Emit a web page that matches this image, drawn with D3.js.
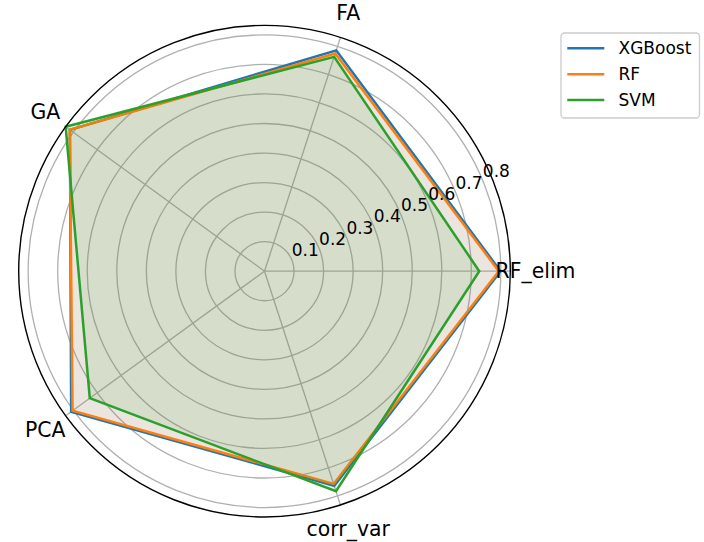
<!DOCTYPE html>
<html>
<head>
<meta charset="utf-8">
<script src="https://cdn.jsdelivr.net/npm/d3@7"></script>
<style>
  body { margin: 0; background: #fff; }
  svg { display: block; font-family: 'DejaVu Sans', sans-serif; }
</style>
</head>
<body>
<div class="radar"></div>
<script>
'use strict';
var categories = ['RF_elim', 'FA', 'GA', 'PCA', 'corr_var'];
var xgboost = [0.799, 0.786, 0.814, 0.809, 0.764];
var rf = [0.793, 0.775, 0.815, 0.803, 0.757];
var svmVals = [0.727, 0.763, 0.832, 0.731, 0.783];
var radialTicks = [0.1, 0.2, 0.3, 0.4, 0.5, 0.6, 0.7, 0.8];
var seriesNames = ['XGBoost', 'RF', 'SVM'];
var seriesColors = ['#1f77b4', '#ff7f0e', '#2ca02c'];

var width = 704, height = 542;
var cx = 264.5, cy = 271.2, outerR = 245.8;

var svg = d3.select('.radar').append('svg')
  .attr('width', width)
  .attr('height', height);

var g = svg.append('g')
  .attr('transform', 'translate(' + cx + ',' + cy + ')');

var r = d3.scaleLinear()
  .domain([0, 0.832])
  .range([0, outerR]);

// theta in matplotlib: counter-clockwise from east
var theta = d3.scaleLinear()
  .domain([0, categories.length])
  .range([0, 2 * Math.PI]);

function px(i, v) { return r(v) * Math.cos(theta(i)); }
function py(i, v) { return -r(v) * Math.sin(theta(i)); }

// circular grid
g.selectAll('.ring')
  .data(radialTicks)
  .enter().append('circle')
  .attr('r', function(d) { return r(d); })
  .attr('fill', 'none')
  .attr('stroke', '#b0b0b0')
  .attr('stroke-width', 1.3);

// spokes
g.selectAll('.spoke')
  .data(categories)
  .enter().append('line')
  .attr('x1', 0).attr('y1', 0)
  .attr('x2', function(d, i) { return outerR * Math.cos(theta(i)); })
  .attr('y2', function(d, i) { return -outerR * Math.sin(theta(i)); })
  .attr('stroke', '#b0b0b0')
  .attr('stroke-width', 1.3);

// series
var line = d3.lineRadial()
  .angle(function(d, i) { return Math.PI / 2 - theta(i); })
  .radius(function(d) { return r(d); })
  .curve(d3.curveLinearClosed);

[xgboost, rf, svmVals].forEach(function(vals, k) {
  g.append('path')
    .attr('d', line(vals))
    .attr('fill', 'none')
    .attr('stroke', seriesColors[k])
    .attr('stroke-width', 2.5)
    .attr('stroke-linejoin', 'miter');
  g.append('path')
    .attr('d', line(vals))
    .attr('fill', seriesColors[k])
    .attr('fill-opacity', 0.1)
    .attr('stroke', 'none');
});

// outer spine
g.append('circle')
  .attr('r', outerR)
  .attr('fill', 'none')
  .attr('stroke', '#000')
  .attr('stroke-width', 1.4);

// radial tick labels at 22.5 deg
var labAng = 22.5 * Math.PI / 180;
g.selectAll('.rlabel')
  .data(radialTicks)
  .enter().append('text')
  .attr('x', function(d) { return r(d) * Math.cos(labAng); })
  .attr('y', function(d) { return -r(d) * Math.sin(labAng) - 3.5; })
  .attr('font-size', '17px')
  .attr('fill', '#000')
  .text(function(d) { return d.toFixed(1); });

// category labels
var labR = 271;
g.selectAll('.tlabel')
  .data(categories)
  .enter().append('text')
  .attr('x', function(d, i) { return labR * Math.cos(theta(i)); })
  .attr('y', function(d, i) { return -labR * Math.sin(theta(i)); })
  .attr('text-anchor', 'middle')
  .attr('dominant-baseline', 'central')
  .attr('font-size', '20.4px')
  .attr('fill', '#000')
  .text(function(d) { return d; });

// legend
var legend = svg.append('g')
  .attr('transform', 'translate(561,33)');

legend.append('rect')
  .attr('width', 138.5)
  .attr('height', 85)
  .attr('rx', 3.5)
  .attr('fill', '#fff')
  .attr('fill-opacity', 0.8)
  .attr('stroke', '#cccccc')
  .attr('stroke-width', 1.3);

seriesNames.forEach(function(name, k) {
  var yy = 15.3 + k * 25.9;
  legend.append('line')
    .attr('x1', 6.3).attr('x2', 43.3)
    .attr('y1', yy).attr('y2', yy)
    .attr('stroke', seriesColors[k])
    .attr('stroke-width', 2.5);
  legend.append('text')
    .attr('x', 57.5)
    .attr('y', yy)
    .attr('dominant-baseline', 'central')
    .attr('font-size', '17px')
    .attr('fill', '#000')
    .text(name);
});
</script>
</body>
</html>
